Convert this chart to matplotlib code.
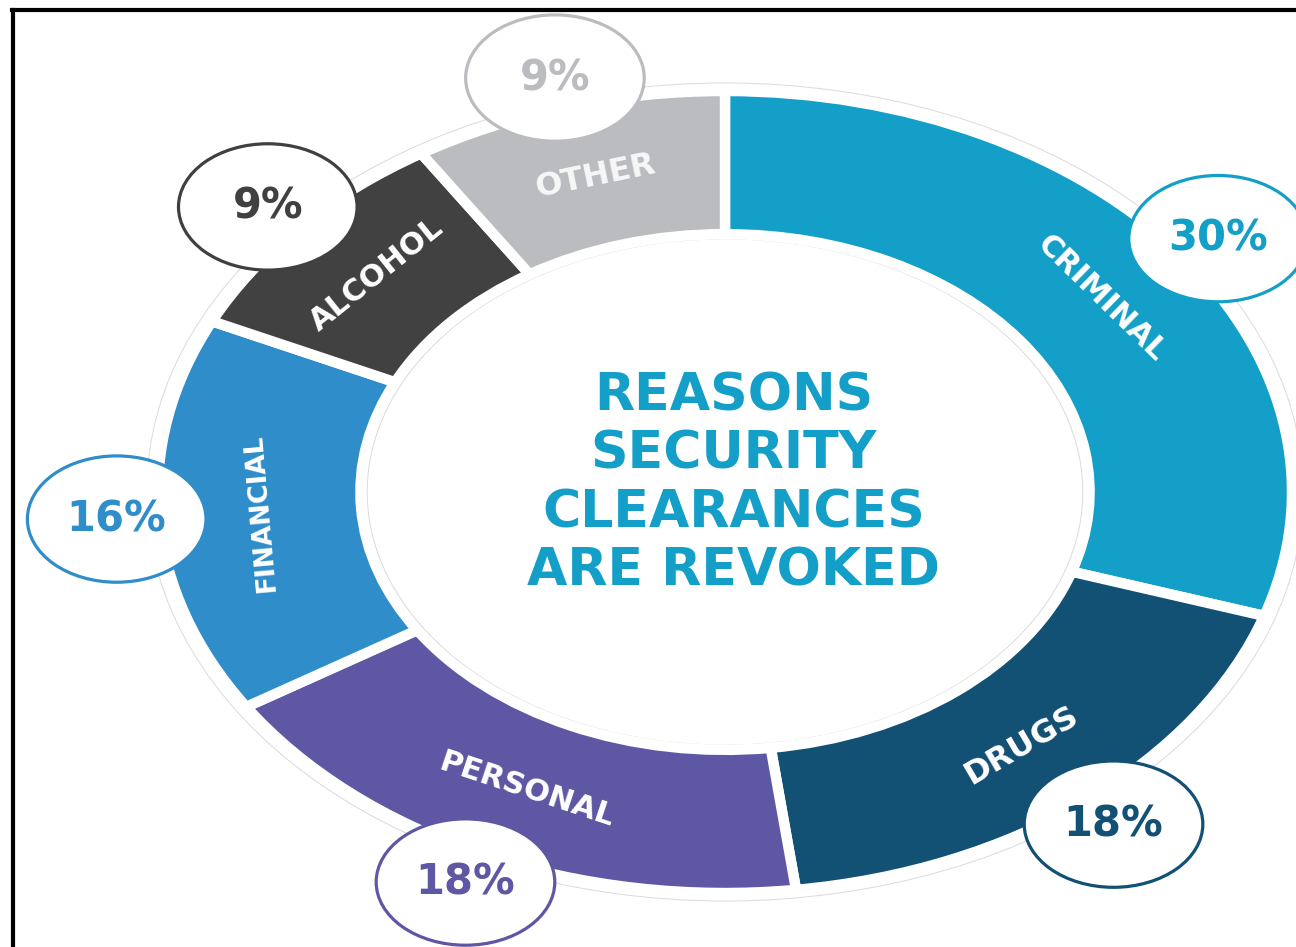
import numpy as np
import matplotlib.pyplot as plt
from matplotlib.patches import Ellipse
from matplotlib.lines import Line2D

# ---- data ----
categories = ["CRIMINAL", "DRUGS", "PERSONAL", "FINANCIAL", "ALCOHOL", "OTHER"]
percentages = [30, 18, 18, 16, 9, 9]
colors = ["#139fc7", "#125074", "#5e57a4", "#2f8dca", "#414141", "#bbbcc0"]
pct_colors = ["#139fc7", "#125074", "#5e57a4", "#2f8dca", "#404040", "#bbbcc0"]
label_colors = ["white", "white", "white", "white", "white", "#f7f7f7"]
label_sizes = [22, 23, 22, 19, 22, 23]
title = "REASONS\nSECURITY\nCLEARANCES\nARE REVOKED"
title_color = "#139fc7"

W, H = 1296, 947
fig = plt.figure(figsize=(W / 100, H / 100), dpi=100)
fig.patch.set_facecolor("white")

# pie axes (stretched ellipse like the reference)
cx, cy, rx, ry = 725, 492, 567, 401
ax = fig.add_axes([(cx - rx) / W, 1 - (cy + ry) / H, 2 * rx / W, 2 * ry / H])
wedges, _ = ax.pie(percentages, colors=colors, startangle=90, counterclock=False,
                   radius=1.0,
                   wedgeprops=dict(width=0.357, edgecolor="white", linewidth=7.5))
ax.set_xlim(-1, 1)
ax.set_ylim(-1, 1)
ax.set_aspect("auto")
ax.axis("off")

# faint outline rings
for d in (2.04, 1.262):
    ax.add_patch(Ellipse((0, 0), d, d, facecolor="none", edgecolor="#dadada",
                         lw=0.7, zorder=0.5, clip_on=False))

font = "DejaVu Sans"
r_bubble = 1.075
r_label = 0.82
for w, cat, p, pc, lc, ls in zip(wedges, categories, percentages, pct_colors,
                                 label_colors, label_sizes):
    mid = np.deg2rad((w.theta1 + w.theta2) / 2)
    c, s = np.cos(mid), np.sin(mid)
    # bubble
    bx, by = r_bubble * c, r_bubble * s
    ax.add_patch(Ellipse((bx, by), 0.315, 0.315, facecolor="white",
                         edgecolor=pc, lw=2.3, zorder=5, clip_on=False))
    ax.text(bx, by, f"{p}%", ha="center", va="center", fontsize=30,
            fontweight="bold", color=pc, family=font, zorder=6)
    # segment label rotated along the ring (clockwise tangent)
    tx, ty = rx * s, -ry * c
    rot = np.degrees(np.arctan2(ty, tx))
    while rot > 100:
        rot -= 180
    while rot <= -80:
        rot += 180
    ax.text(r_label * c, r_label * s, cat, ha="center", va="center",
            rotation=rot, rotation_mode="anchor", fontsize=ls,
            fontweight="bold", color=lc, family=font, zorder=4)

ax.text(0.015, 0.02, title, ha="center", va="center", multialignment="center",
        fontsize=37.5, fontweight="bold", color=title_color, family=font,
        linespacing=1.21, zorder=4)

# frame lines (top and left) as in the reference crop
fig.add_artist(Line2D([12 / W, 1.0], [1 - 10 / H, 1 - 10 / H], color="black",
                      lw=3, transform=fig.transFigure))
fig.add_artist(Line2D([13 / W, 13 / W], [1 - 10 / H, 0.0], color="black",
                      lw=3, transform=fig.transFigure))

fig.savefig("out.png", dpi=100, facecolor="white")
